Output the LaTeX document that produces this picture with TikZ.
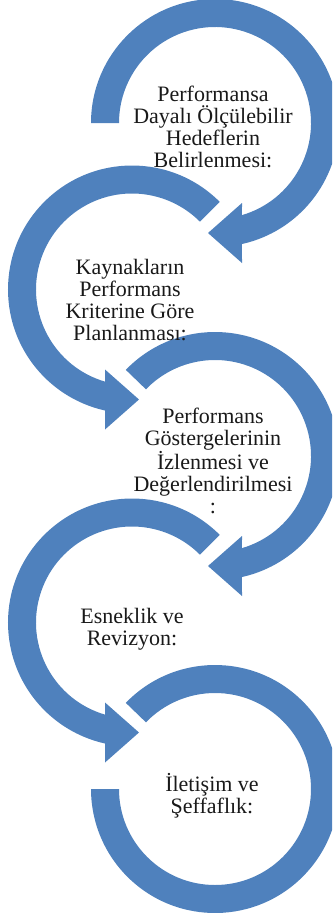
\documentclass[tikz,border=0pt]{standalone}
\usepackage{fontspec}
\setmainfont{Liberation Serif}
\usetikzlibrary{calc}
\definecolor{ringblue}{RGB}{79,129,189}
\tikzset{
	ring/.style={fill=ringblue, draw=none},
	steptext/.style={font=\fontsize{22}{22}\selectfont, align=center, text=black!90, inner sep=0pt}
}

\begin{document}
\begin{tikzpicture}[x=1pt, y=1pt]
	\def\Ro{124pt}
	\def\Ri{96pt}
	\clip (0,0) rectangle (332,-918);
	
	\begin{scope}[shift={(215,-123)}]
		\fill[ring] (180:\Ro) arc[start angle=180, end angle=-77.43, radius=\Ro] -- (27,-140) -- (-7,-110) -- (27,-80) -- (-73.67:\Ri) arc[start angle=-73.67, end angle=180, radius=\Ri] -- cycle;
	\end{scope}
	\begin{scope}[shift={(132,-289.5)}]
		\fill[ring] (45:\Ro) arc[start angle=45, end angle=257.43, radius=\Ro] -- (-27,-140) -- (7,-110) -- (-27,-80) -- (253.67:\Ri) arc[start angle=253.67, end angle=45, radius=\Ri] -- cycle;
	\end{scope}
	\begin{scope}[shift={(215,-456)}]
		\fill[ring] (136:\Ro) arc[start angle=136, end angle=-77.43, radius=\Ro] -- (27,-140) -- (-7,-110) -- (27,-80) -- (-73.67:\Ri) arc[start angle=-73.67, end angle=136, radius=\Ri] -- cycle;
	\end{scope}
	\begin{scope}[shift={(132,-622.5)}]
		\fill[ring] (45:\Ro) arc[start angle=45, end angle=257.43, radius=\Ro] -- (-27,-140) -- (7,-110) -- (-27,-80) -- (253.67:\Ri) arc[start angle=253.67, end angle=45, radius=\Ri] -- cycle;
	\end{scope}
	\begin{scope}[shift={(215,-789)}]
		\fill[ring] (136:\Ro) arc[start angle=136, end angle=-180, radius=\Ro] -- (-180:\Ri) arc[start angle=-180, end angle=136, radius=\Ri] -- cycle;
	\end{scope}
	
	\node[steptext] (hedef) at (213,-127) {Performansa\\Dayalı Ölçülebilir\\Hedeflerin\\Belirlenmesi:};
	\node[steptext] (kaynak) at (130,-300) {Kaynakların\\Performans\\Kriterine Göre\\Planlanması:};
	\node[steptext] (gosterge) at (213,-461) {Performans\\Göstergelerinin\\İzlenmesi ve\\Değerlendirilmesi\\:};
	\node[steptext] (esneklik) at (132,-629) {Esneklik ve\\Revizyon:};
	\node[steptext] (iletisim) at (212,-796) {İletişim ve\\Şeffaflık:};
\end{tikzpicture}
\end{document}
